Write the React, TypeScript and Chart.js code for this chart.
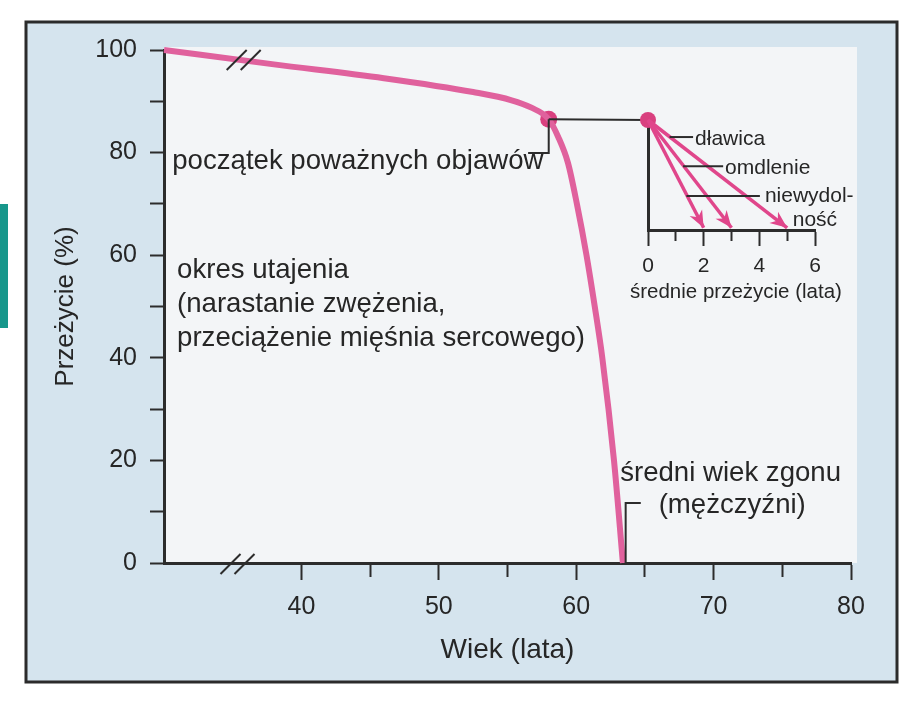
import React, { useEffect, useRef } from 'react';
import { Chart, registerables } from 'chart.js';

Chart.register(...registerables);

// ---- data ----
const ages = [30, 38, 46, 52.5, 55.3, 56.7, 58, 58.7, 59.4, 60.05, 60.75, 61.35, 61.9, 62.75, 63.4];
const survival = [100, 97.2, 94.5, 91.8, 90.2, 88.8, 86.5, 83, 78, 70, 60, 50, 40, 20, 0];
const onsetAge = 58;
const onsetSurvival = 86.5;
const xTickLabels = [40, 50, 60, 70, 80];
const yTickLabels = [0, 20, 40, 60, 80, 100];
const symptoms = ['dławica', 'omdlenie', 'niewydolność'];
const meanSurvivalYears = [5, 3, 2];
const insetTickLabels = [0, 2, 4, 6];

// ---- styles ----
const FONT = '"Liberation Sans", Arial, Helvetica, sans-serif';
const TEXT = '#262626';
const AXIS = '#2c2c2c';
const PINK = '#e0619d';
const PINK_LIGHT = '#f2a9c9';
const DOT = '#d9407f';
const ARROW = '#e0468b';

export default function App() {
  const mainRef = useRef<HTMLCanvasElement | null>(null);
  const insetRef = useRef<HTMLCanvasElement | null>(null);

  useEffect(() => {
    if (!mainRef.current || !insetRef.current) return;

    const curve = ages.map((a, i) => ({ x: a, y: survival[i] }));

    const panelPlugin = {
      id: 'panel',
      beforeDraw(chart: any) {
        const { ctx, chartArea: a } = chart;
        ctx.save();
        ctx.fillStyle = '#17978b';
        ctx.fillRect(0, a.top + 154, 8, 124);
        ctx.fillStyle = '#d5e4ee';
        ctx.fillRect(a.left - 138, a.top - 28, 871, 660);
        ctx.strokeStyle = '#2b2b2b';
        ctx.lineWidth = 3;
        ctx.strokeRect(a.left - 138, a.top - 28, 871, 660);
        ctx.fillStyle = '#f3f5f7';
        ctx.fillRect(a.left, a.top - 3, a.right - a.left + 6, a.bottom - a.top + 3);
        ctx.restore();
      },
      afterDatasetsDraw(chart: any) {
        const { ctx } = chart;
        const xs = chart.scales.x;
        const ys = chart.scales.y;
        const px = (v: number) => xs.getPixelForValue(v);
        const py = (v: number) => ys.getPixelForValue(v);
        ctx.save();
        ctx.fillStyle = TEXT;
        ctx.font = `27.6px ${FONT}`;
        ctx.textBaseline = 'middle';
        ctx.textAlign = 'left';
        ctx.fillText('początek poważnych objawów', px(30.6), py(78.2));
        const latent = ['okres utajenia', '(narastanie zwężenia,', 'przeciążenie mięśnia sercowego)'];
        latent.forEach((t, i) => ctx.fillText(t, px(30.95), py(57.1) + i * 34));
        ctx.fillText('średni wiek zgonu', px(63.2), py(17.5));
        ctx.fillText('(mężczyźni)', px(66.0), py(11.3));

        ctx.strokeStyle = AXIS;
        ctx.lineWidth = 2;
        ctx.beginPath();
        ctx.moveTo(px(onsetAge), py(onsetSurvival));
        ctx.lineTo(px(onsetAge), py(79.9));
        ctx.lineTo(px(56.5), py(79.9));
        ctx.stroke();
        ctx.beginPath();
        ctx.moveTo(px(63.6), py(0));
        ctx.lineTo(px(63.6), py(11.7));
        ctx.lineTo(px(64.7), py(11.7));
        ctx.stroke();
        const brk = (cx: number, cy: number) => {
          [-7, 7].forEach((o) => {
            ctx.beginPath();
            ctx.moveTo(cx + o - 10, cy + 10);
            ctx.lineTo(cx + o + 10, cy - 10);
            ctx.stroke();
          });
        };
        brk(px(35.8), py(98.05));
        brk(px(35.35), py(-0.2));
        ctx.restore();
      },
    };

    const mainChart = new Chart(mainRef.current, {
      type: 'line',
      data: {
        datasets: [
          {
            data: curve,
            borderColor: PINK,
            borderWidth: 6,
            pointRadius: 0,
            cubicInterpolationMode: 'monotone',
            clip: false,
          } as any,
          {
            data: curve,
            borderColor: PINK_LIGHT,
            borderWidth: 2,
            pointRadius: 0,
            cubicInterpolationMode: 'monotone',
            clip: false,
          } as any,
          {
            data: [{ x: onsetAge, y: onsetSurvival }],
            showLine: false,
            pointRadius: 8.5,
            pointBackgroundColor: DOT,
            pointBorderWidth: 0,
            clip: false,
          } as any,
        ],
      },
      options: {
        responsive: false,
        animation: false,
        events: [],
        layout: { padding: { left: 0, top: 50, right: 72, bottom: 0 } },
        plugins: { legend: { display: false }, tooltip: { enabled: false } },
        scales: {
          x: {
            type: 'linear',
            min: 30,
            max: 80,
            ticks: {
              stepSize: 5,
              autoSkip: false,
              maxRotation: 0,
              callback: (v: any) => (xTickLabels.includes(Number(v)) ? String(v) : ''),
              font: { family: FONT, size: 25 },
              color: TEXT,
              padding: 12,
            },
            grid: {
              drawOnChartArea: false,
              tickLength: 17,
              tickWidth: 2,
              tickColor: (c: any) => (c.tick && c.tick.value < 40 ? 'rgba(0,0,0,0)' : AXIS),
              tickBorderDash: (c: any) => (c.tick && c.tick.value % 10 !== 0 ? [12, 100] : []),
            },
            border: { color: AXIS, width: 3 },
            title: {
              display: true,
              text: 'Wiek (lata)',
              font: { family: FONT, size: 28 },
              color: TEXT,
              padding: { top: 0, bottom: 38 },
            },
            afterFit: (s: any) => {
              s.height = 142;
            },
          },
          y: {
            type: 'linear',
            min: 0,
            max: 100,
            ticks: {
              stepSize: 10,
              callback: (v: any) => (yTickLabels.includes(Number(v)) ? String(v) : ''),
              font: { family: FONT, size: 25 },
              color: TEXT,
              padding: 13,
            },
            grid: { drawOnChartArea: false, tickLength: 14, tickWidth: 2, tickColor: AXIS },
            border: { color: AXIS, width: 3 },
            title: {
              display: true,
              text: 'Przeżycie (%)',
              font: { family: FONT, size: 26 },
              color: TEXT,
              padding: { top: 50, bottom: 0 },
            },
            afterFit: (s: any) => {
              s.width = 164;
            },
          },
        },
      } as any,
      plugins: [panelPlugin],
    });

    const insetPlugin = {
      id: 'insetDecor',
      beforeDatasetsDraw(chart: any) {
        const { ctx } = chart;
        const ix = chart.scales.x.getPixelForValue(0);
        const iy = chart.scales.y.getPixelForValue(1);
        const mx = mainChart.scales.x.getPixelForValue(onsetAge);
        const my = mainChart.scales.y.getPixelForValue(onsetSurvival);
        ctx.save();
        ctx.strokeStyle = AXIS;
        ctx.lineWidth = 2;
        ctx.beginPath();
        ctx.moveTo(mx, my);
        ctx.lineTo(ix, iy);
        ctx.stroke();
        ctx.restore();
      },
      afterDatasetsDraw(chart: any) {
        const { ctx } = chart;
        const xs = chart.scales.x;
        const ys = chart.scales.y;
        const px = (v: number) => xs.getPixelForValue(v);
        const py = (v: number) => ys.getPixelForValue(v);
        ctx.save();
        for (let i = 0; i < meanSurvivalYears.length; i++) {
          const meta = chart.getDatasetMeta(i);
          const p0 = meta.data[0];
          const p1 = meta.data[1];
          const ang = Math.atan2(p1.y - p0.y, p1.x - p0.x);
          const L = 17;
          const W = 7;
          ctx.fillStyle = ARROW;
          ctx.beginPath();
          ctx.moveTo(p1.x, p1.y);
          ctx.lineTo(p1.x - L * Math.cos(ang) + W * Math.sin(ang), p1.y - L * Math.sin(ang) - W * Math.cos(ang));
          ctx.lineTo(p1.x - L * Math.cos(ang) * 0.7, p1.y - L * Math.sin(ang) * 0.7);
          ctx.lineTo(p1.x - L * Math.cos(ang) - W * Math.sin(ang), p1.y - L * Math.sin(ang) + W * Math.cos(ang));
          ctx.closePath();
          ctx.fill();
        }
        const labelY = [0.845, 0.58, 0.31];
        const lineEnd = [1.62, 2.7, 4.02];
        const textX = [1.69, 2.77, 4.2];
        ctx.strokeStyle = AXIS;
        ctx.lineWidth = 2;
        ctx.fillStyle = TEXT;
        ctx.font = `21px ${FONT}`;
        ctx.textBaseline = 'middle';
        ctx.textAlign = 'left';
        symptoms.forEach((s, i) => {
          const yv = labelY[i];
          const startX = meanSurvivalYears[i] * (1 - yv);
          ctx.beginPath();
          ctx.moveTo(px(startX), py(yv));
          ctx.lineTo(px(lineEnd[i]), py(yv));
          ctx.stroke();
          if (s === 'niewydolność') {
            ctx.fillText('niewydol-', px(textX[i]), py(yv));
            ctx.fillText('ność', px(5.2), py(0.09));
          } else {
            ctx.fillText(s, px(textX[i]), py(yv) + 2);
          }
        });
        // axis title (drawn without width compression)
        ctx.font = `20.5px ${FONT}`;
        ctx.textAlign = 'center';
        ctx.fillText('średnie przeżycie (lata)', px(3.16), py(-0.57));
        ctx.restore();
      },
    };

    const insetChart = new Chart(insetRef.current, {
      type: 'line',
      data: {
        datasets: [
          ...meanSurvivalYears.map((yrs) => ({
            data: [
              { x: 0, y: 1 },
              { x: yrs, y: 0.02 },
            ],
            borderColor: ARROW,
            borderWidth: 3.5,
            pointRadius: 0,
            clip: false,
          })),
          {
            data: [{ x: 0, y: 1 }],
            showLine: false,
            pointRadius: 8,
            pointBackgroundColor: DOT,
            pointBorderWidth: 0,
            clip: false,
          },
        ] as any,
      },
      options: {
        responsive: false,
        animation: false,
        events: [],
        layout: { padding: { left: 648, top: 120, right: 108, bottom: 395 } },
        plugins: { legend: { display: false }, tooltip: { enabled: false } },
        scales: {
          x: {
            type: 'linear',
            min: 0,
            max: 6,
            ticks: {
              stepSize: 1,
              autoSkip: false,
              maxRotation: 0,
              callback: (v: any) => (insetTickLabels.includes(Number(v)) ? String(v) : ''),
              font: { family: FONT, size: 21 },
              color: TEXT,
              padding: 8,
            },
            grid: {
              drawOnChartArea: false,
              tickLength: 16,
              tickWidth: 2,
              tickColor: AXIS,
              tickBorderDash: (c: any) => (c.tick && c.tick.value % 2 !== 0 ? [9, 100] : []),
            },
            border: { color: AXIS, width: 3 },
            title: { display: false },
            afterFit: (s: any) => {
              s.height = 80;
            },
          },
          y: {
            type: 'linear',
            min: 0,
            max: 1,
            ticks: { display: false },
            grid: { drawOnChartArea: false, drawTicks: false },
            border: { color: AXIS, width: 3 },
            afterFit: (s: any) => {
              s.width = 0;
            },
          },
        },
      } as any,
      plugins: [insetPlugin],
    });

    return () => {
      insetChart.destroy();
      mainChart.destroy();
    };
  }, []);

  return (
    <div style={{ position: 'absolute', left: 0, top: 0, width: 923, height: 705, background: '#ffffff' }}>
      <canvas ref={mainRef} width={923} height={705} style={{ position: 'absolute', left: 0, top: 0 }} />
      <canvas
        ref={insetRef}
        width={923}
        height={705}
        style={{ position: 'absolute', left: 0, top: 0, pointerEvents: 'none' }}
      />
    </div>
  );
}
